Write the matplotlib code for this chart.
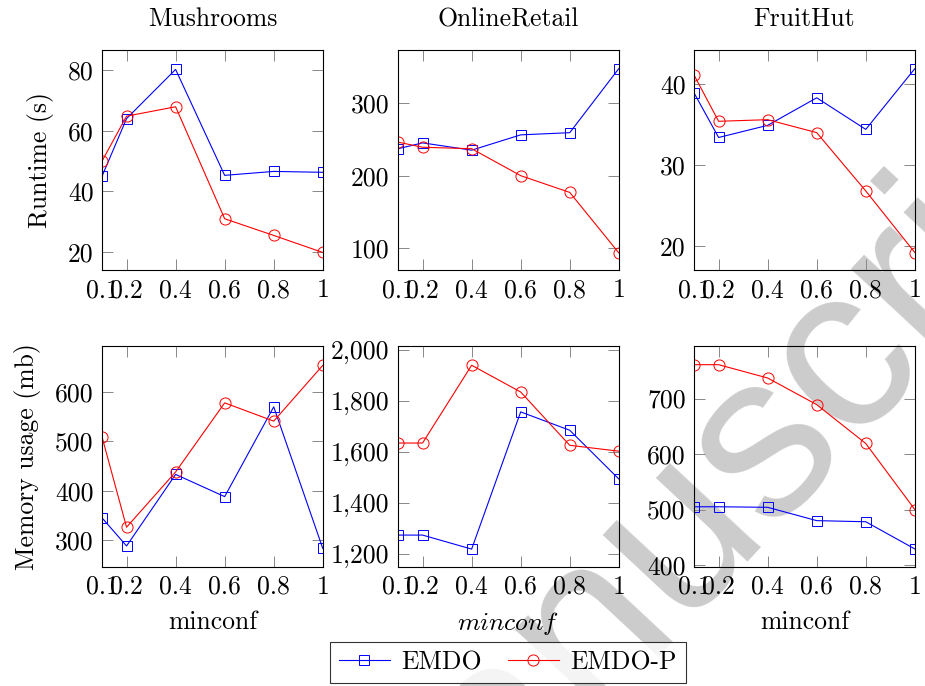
import matplotlib
matplotlib.use("Agg")
import matplotlib.pyplot as plt
from matplotlib.ticker import FuncFormatter

# minconf values on the x axis
minconf = [0.1, 0.2, 0.4, 0.6, 0.8, 1.0]
datasets = ["Mushrooms", "OnlineRetail", "FruitHut"]

# Runtime (s)
rt_mushrooms_emdo = [45.0, 64.0, 80.2, 45.3, 46.6, 46.3]
rt_mushrooms_emdop = [50.0, 64.8, 67.9, 31.0, 25.5, 19.9]
rt_online_emdo = [237, 245, 235, 256, 259, 347]
rt_online_emdop = [246, 239, 237, 200, 177, 94]
rt_fruit_emdo = [38.9, 33.4, 34.9, 38.3, 34.4, 41.9]
rt_fruit_emdop = [41.1, 35.4, 35.6, 34.0, 26.8, 19.2]

# Memory usage (mb)
mem_mushrooms_emdo = [345, 288, 433, 388, 570, 283]
mem_mushrooms_emdop = [509, 326, 438, 578, 541, 654]
mem_online_emdo = [1274, 1274, 1219, 1757, 1685, 1494]
mem_online_emdop = [1635, 1635, 1940, 1835, 1626, 1603]
mem_fruit_emdo = [505, 505, 504, 480, 478, 429]
mem_fruit_emdop = [761, 761, 737, 689, 619, 500]

# tick labels
x_ticks = [0.1, 0.2, 0.4, 0.6, 0.8, 1.0]
x_tick_labels = ["0.1", "0.2", "0.4", "0.6", "0.8", "1"]
rt_yticks = [[20, 40, 60, 80], [100, 200, 300], [20, 30, 40]]
mem_yticks = [[300, 400, 500, 600], [1200, 1400, 1600, 1800, 2000], [400, 500, 600, 700]]

emdo = [[rt_mushrooms_emdo, rt_online_emdo, rt_fruit_emdo],
        [mem_mushrooms_emdo, mem_online_emdo, mem_fruit_emdo]]
emdop = [[rt_mushrooms_emdop, rt_online_emdop, rt_fruit_emdop],
         [mem_mushrooms_emdop, mem_online_emdop, mem_fruit_emdop]]
yticks = [rt_yticks, mem_yticks]
ylims = [[(14, 86.6), (70, 372.5), (17.0, 44.2)],
         [(246, 692.5), (1150, 2014), (397, 794)]]

# Computer Modern look, like pgfplots
plt.rcParams['font.family'] = 'serif'
plt.rcParams['font.serif'] = ['cmr10']
plt.rcParams['mathtext.fontset'] = 'cm'
plt.rcParams['axes.formatter.use_mathtext'] = True
plt.rcParams['font.size'] = 18.5

fig, axes = plt.subplots(2, 3, figsize=(9.25, 6.86), dpi=100)
plt.subplots_adjust(left=0.1103, right=0.989, bottom=0.1739, top=0.9271,
                    wspace=0.341, hspace=0.345)

# watermark behind the axes
fig.text(0.400, -0.385, "manuscript", fontsize=168, family='Liberation Sans',
         color='#cccccc', rotation=47, rotation_mode='anchor',
         ha='left', va='baseline', zorder=-1)

for r in range(2):
    for c in range(3):
        ax = axes[r][c]
        ax.set_facecolor('none')
        ax.plot(minconf, emdo[r][c], color='blue', marker='s', markersize=7.5,
                markerfacecolor='none', markeredgewidth=0.7, linewidth=0.8,
                label='EMDO')
        ax.plot(minconf, emdop[r][c], color='red', marker='o', markersize=8,
                markerfacecolor='none', markeredgewidth=0.7, linewidth=0.8,
                label='EMDO-P')
        ax.set_xlim(0.1, 1.0)
        ax.set_ylim(*ylims[r][c])
        ax.set_xticks(x_ticks)
        ax.set_xticklabels(x_tick_labels)
        ax.set_yticks(yticks[r][c])
        # thousands separator like 1,200
        ax.yaxis.set_major_formatter(FuncFormatter(lambda v, p: f"{v:,.0f}"))
        ax.tick_params(direction='in', length=8, width=0.7, color='#888888',
                       top=True, right=True, pad=6)
        for s in ax.spines.values():
            s.set_linewidth(0.8)
        if r == 0:
            ax.set_title(datasets[c], fontsize=18.5, pad=17)

axes[0][0].set_ylabel("Runtime (s)", labelpad=10)
axes[1][0].set_ylabel("Memory usage (mb)", labelpad=10)
axes[1][0].set_xlabel("minconf", labelpad=8)
axes[1][1].set_xlabel("$minconf$", labelpad=8)
axes[1][2].set_xlabel("minconf", labelpad=8)

handles, labels = axes[0][0].get_legend_handles_labels()
leg = fig.legend(handles, labels, loc='lower center', bbox_to_anchor=(0.549, 0.0),
                 ncol=2, frameon=True, fancybox=False, edgecolor='black',
                 handlelength=2.0, handletextpad=0.45, columnspacing=1.0,
                 borderpad=0.35, borderaxespad=0.1)
leg.get_frame().set_linewidth(0.8)

plt.savefig("out.png", dpi=100)
